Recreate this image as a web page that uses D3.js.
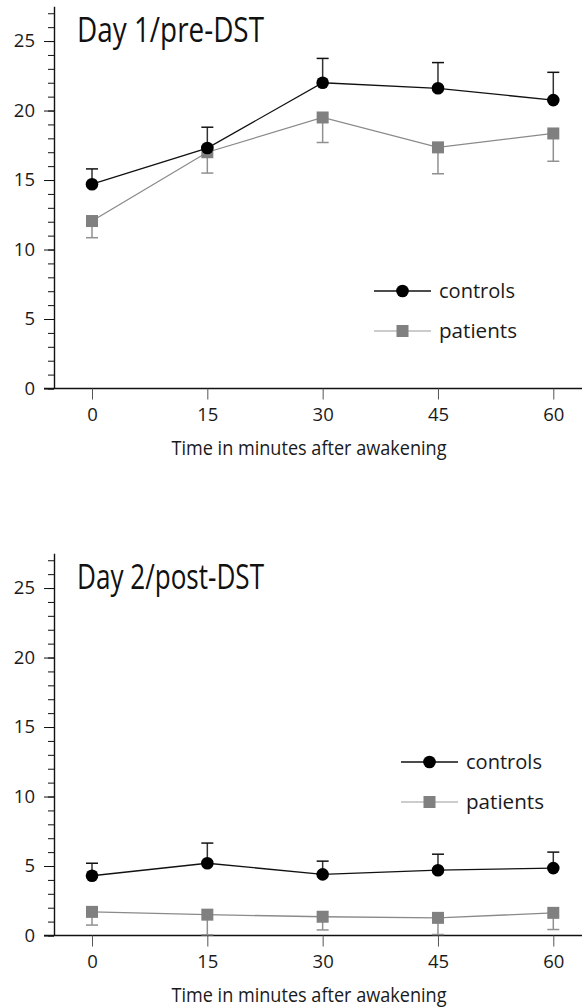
<!DOCTYPE html>
<html>
<head>
<meta charset="utf-8">
<script src="https://cdn.jsdelivr.net/npm/d3@7"></script>
<style>
  body { margin: 0; background: #fff; }
  svg { display: block; font-family: "Open Sans", sans-serif; }
</style>
</head>
<body>
<svg width="582" height="1008"></svg>
<script>
// data
var times = [0, 15, 30, 45, 60];
var yMajorTicks = [0, 5, 10, 15, 20, 25];
var seriesNames = ["controls", "patients"];

var day1Controls = [14.7, 17.3, 22.0, 21.6, 20.75];
var day1ControlsErr = [1.1, 1.5, 1.75, 1.85, 2.0];
var day1Patients = [12.05, 17.0, 19.5, 17.35, 18.35];
var day1PatientsErr = [1.2, 1.5, 1.8, 1.9, 2.0];

var day2Controls = [4.3, 5.2, 4.4, 4.7, 4.85];
var day2ControlsErr = [0.9, 1.45, 0.95, 1.15, 1.15];
var day2Patients = [1.7, 1.5, 1.35, 1.27, 1.63];
var day2PatientsErr = [0.95, 1.45, 0.95, 1.2, 1.2];

var svg = d3.select("svg");

var x = d3.scaleLinear().domain([0, 60]).range([92, 553.3]);

function drawPanel(top, title, ctrl, ctrlErr, pat, patErr, legX, legY) {
	var g = svg.append("g").attr("transform", "translate(0," + top + ")");
	var y = d3.scaleLinear().domain([0, 27.5]).range([388.5, 6.3]);

	// y axis: minor ticks every unit, major every 5
	g.append("g")
		.attr("transform", "translate(54,0)")
		.call(d3.axisLeft(y).tickValues(d3.range(0, 28)).tickSize(6).tickSizeOuter(0).tickFormat(""))
		.call(function(a) { a.selectAll("line").attr("stroke", "#111"); a.select(".domain").attr("stroke", "#111").attr("stroke-width", 1.4); });
	g.append("g")
		.attr("transform", "translate(54,0)")
		.call(d3.axisLeft(y).tickValues(yMajorTicks).tickSize(10).tickPadding(9).tickSizeOuter(0))
		.attr("font-family", null).attr("font-size", null)
		.call(function(a) {
			a.select(".domain").remove();
			a.selectAll("line").attr("stroke", "#111");
			a.selectAll("text").attr("font-size", 18.5).attr("fill", "#1a1a1a");
		});

	// x axis
	g.append("line")
		.attr("x1", 44).attr("x2", 582)
		.attr("y1", y(0)).attr("y2", y(0))
		.attr("stroke", "#111").attr("stroke-width", 1.4);
	g.append("g")
		.attr("transform", "translate(0," + y(0) + ")")
		.call(d3.axisBottom(x).tickValues(times).tickSize(11).tickPadding(8).tickSizeOuter(0))
		.attr("font-family", null).attr("font-size", null)
		.call(function(a) {
			a.select(".domain").remove();
			a.selectAll("line").attr("stroke", "#555");
			a.selectAll("text").attr("font-size", 18.5).attr("fill", "#1a1a1a");
		});

	g.append("text")
		.attr("x", 171.5).attr("y", 455)
		.attr("font-size", 20).attr("fill", "#1a1a1a")
		.attr("textLength", 275).attr("lengthAdjust", "spacingAndGlyphs")
		.text("Time in minutes after awakening");

	g.append("text")
		.attr("x", 77).attr("y", 41.7)
		.attr("font-size", 34).attr("fill", "#111")
		.attr("textLength", 187).attr("lengthAdjust", "spacingAndGlyphs")
		.text(title);

	var line = d3.line().x(function(d) { return x(d.t); }).y(function(d) { return y(d.v); });

	function pts(vals, errs) {
		return vals.map(function(v, i) { return { t: times[i], v: v, e: errs[i] }; });
	}
	var pPts = pts(pat, patErr);
	var cPts = pts(ctrl, ctrlErr);

	// patients: error bars go down
	g.append("path").datum(pPts).attr("d", line)
		.attr("fill", "none").attr("stroke", "#8a8a8a").attr("stroke-width", 1.3);
	var pe = g.selectAll(".perr").data(pPts).join("g");
	pe.append("line")
		.attr("x1", function(d) { return x(d.t); }).attr("x2", function(d) { return x(d.t); })
		.attr("y1", function(d) { return y(d.v); }).attr("y2", function(d) { return y(d.v - d.e); })
		.attr("stroke", "#909090").attr("stroke-width", 1.5);
	pe.append("line")
		.attr("x1", function(d) { return x(d.t) - 6; }).attr("x2", function(d) { return x(d.t) + 6; })
		.attr("y1", function(d) { return y(d.v - d.e); }).attr("y2", function(d) { return y(d.v - d.e); })
		.attr("stroke", "#909090").attr("stroke-width", 1.5);
	g.selectAll(".psq").data(pPts).join("rect")
		.attr("x", function(d) { return x(d.t) - 6; }).attr("y", function(d) { return y(d.v) - 6; })
		.attr("width", 12).attr("height", 12)
		.attr("fill", "#808080");

	// controls: error bars go up
	g.append("path").datum(cPts).attr("d", line)
		.attr("fill", "none").attr("stroke", "#111").attr("stroke-width", 1.3);
	var ce = g.selectAll(".cerr").data(cPts).join("g");
	ce.append("line")
		.attr("x1", function(d) { return x(d.t); }).attr("x2", function(d) { return x(d.t); })
		.attr("y1", function(d) { return y(d.v); }).attr("y2", function(d) { return y(d.v + d.e); })
		.attr("stroke", "#333").attr("stroke-width", 1.5);
	ce.append("line")
		.attr("x1", function(d) { return x(d.t) - 6; }).attr("x2", function(d) { return x(d.t) + 6; })
		.attr("y1", function(d) { return y(d.v + d.e); }).attr("y2", function(d) { return y(d.v + d.e); })
		.attr("stroke", "#111").attr("stroke-width", 1.5);
	g.selectAll(".cdot").data(cPts).join("circle")
		.attr("cx", function(d) { return x(d.t); }).attr("cy", function(d) { return y(d.v); })
		.attr("r", 6.3).attr("fill", "#000");

	// legend
	var leg = g.selectAll(".leg").data(seriesNames).join("g")
		.attr("transform", function(d, i) { return "translate(" + legX + "," + (legY + i * 40) + ")"; });
	leg.append("line")
		.attr("x1", 0).attr("x2", 57).attr("y1", 0).attr("y2", 0)
		.attr("stroke", function(d, i) { return i == 0 ? "#111" : "#bbbbbb"; })
		.attr("stroke-width", 1.5);
	leg.each(function(d, i) {
		var s = d3.select(this);
		if (i == 0) {
			s.append("circle").attr("cx", 28.5).attr("cy", 0).attr("r", 6.3).attr("fill", "#000");
		} else {
			s.append("rect").attr("x", 22.5).attr("y", -6).attr("width", 12).attr("height", 12).attr("fill", "#808080");
		}
	});
	leg.append("text")
		.attr("x", 65).attr("y", 0).attr("dy", "0.35em")
		.attr("font-size", 20).attr("fill", "#1a1a1a")
		.attr("textLength", function(d, i) { return i == 0 ? 76 : 78; }).attr("lengthAdjust", "spacingAndGlyphs")
		.text(function(d) { return d; });
}

drawPanel(0, "Day 1/pre-DST", day1Controls, day1ControlsErr, day1Patients, day1PatientsErr, 374, 291);
drawPanel(547, "Day 2/post-DST", day2Controls, day2ControlsErr, day2Patients, day2PatientsErr, 401, 215);
</script>
</body>
</html>
